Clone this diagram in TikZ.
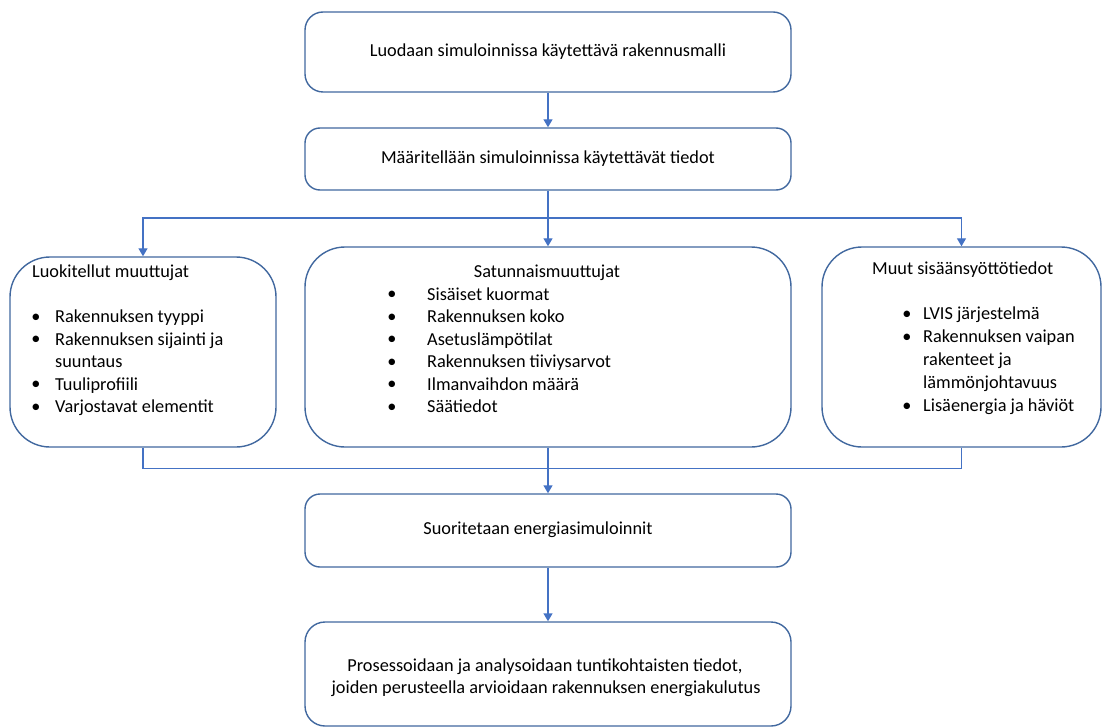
\documentclass[tikz,border=0pt]{standalone}
\usepackage{fontspec}
\setmainfont{Carlito}
\usetikzlibrary{arrows.meta}
\definecolor{edgec}{HTML}{4472C4}
\definecolor{boxc}{HTML}{41689F}
\begin{document}
\begin{tikzpicture}[x=1pt,y=-1pt,
  font=\fontsize{18.3}{22}\selectfont,
  box/.style={draw=boxc, line width=1.4pt, fill=white, inner sep=0pt},
  conn/.style={draw=edgec, line width=1.4pt},
  arr/.style={conn, -{Triangle[width=9pt,length=8pt]}},
  txt/.style={anchor=west, inner sep=0pt, text height=13pt, text depth=4pt},
  ctxt/.style={inner sep=0pt, text height=13pt, text depth=4pt},
  bul/.style={inner sep=0pt}]
\useasboundingbox (0,0) rectangle (1102,727);
% boxes
\node[box, rounded corners=18pt, minimum width=486pt, minimum height=80pt] (b1) at (548,52) {};
\node[box, rounded corners=15pt, minimum width=486pt, minimum height=62pt] (b2) at (548,159) {};
\node[box, rounded corners=40pt, minimum width=266pt, minimum height=190pt] (lbox) at (143,352) {};
\node[box, rounded corners=40pt, minimum width=486pt, minimum height=200pt] (mbox) at (548,347) {};
\node[box, rounded corners=40pt, minimum width=279pt, minimum height=200pt] (rbox) at (961.5,347) {};
\node[box, rounded corners=15pt, minimum width=486pt, minimum height=73pt] (b4) at (548,530.5) {};
\node[box, rounded corners=20pt, minimum width=486pt, minimum height=104pt] (b5) at (548,674) {};
% texts
\node[ctxt] (t1) at (548,52) {Luodaan simuloinnissa käytettävä rakennusmalli};
\node[ctxt] (t2) at (548,159) {Määritellään simuloinnissa käytettävät tiedot};
\node[ctxt] (t4) at (538,530) {Suoritetaan energiasimuloinnit};
\node[ctxt] (t5a) at (545,667) {Prosessoidaan ja analysoidaan tuntikohtaisten tiedot,};
\node[ctxt] (t5b) at (546,689) {joiden perusteella arvioidaan rakennuksen energiakulutus};
% left list
\node[txt] (lt) at (32,273) {Luokitellut muuttujat};
\foreach \t/\b [count=\i] in {Rakennuksen tyyppi/1, Rakennuksen sijainti ja/1, suuntaus/0, Tuuliprofiili/1, Varjostavat elementit/1}{
  \node[txt] (li\i) at (55,{318+22.5*(\i-1)}) {\t};
  \ifnum\b=1 \node[bul] (lb\i) at (36,{318+22.5*(\i-1)}) {\textbullet}; \fi
}
% middle list
\node[ctxt] (mt) at (547,273) {Satunnaismuuttujat};
\foreach \t [count=\i] in {Sisäiset kuormat, Rakennuksen koko, Asetuslämpötilat, Rakennuksen tiiviysarvot, Ilmanvaihdon määrä, Säätiedot}{
  \node[txt] (mi\i) at (427,{295.5+22.5*(\i-1)}) {\t};
  \node[bul] (mb\i) at (392,{295.5+22.5*(\i-1)}) {\textbullet};
}
% right list
\node[txt] (rt) at (872,270) {Muut sisäänsyöttötiedot};
\foreach \t/\b [count=\i] in {LVIS järjestelmä/1, Rakennuksen vaipan/1, rakenteet ja/0, lämmönjohtavuus/0, Lisäenergia ja häviöt/1}{
  \node[txt] (ri\i) at (923,{315+23*(\i-1)}) {\t};
  \ifnum\b=1 \node[bul] (rb\i) at (907,{315+23*(\i-1)}) {\textbullet}; \fi
}
% connectors
\coordinate (split) at (548,218);
\coordinate (merge) at (548,468.5);
\draw[arr] (b1) -- (b2);
\draw[conn] (b2.south) -- (split);
\draw[arr] (split) -| (lbox.north);
\draw[arr] (split) -| (rbox.north);
\draw[arr] (split) -- (mbox.north);
\draw[conn] (lbox.south) |- (merge);
\draw[conn] (rbox.south) |- (merge);
\draw[conn] (mbox.south) -- (merge);
\draw[arr] (merge) -- (b4.north);
\draw[arr] (b4) -- (b5);
\end{tikzpicture}
\end{document}
